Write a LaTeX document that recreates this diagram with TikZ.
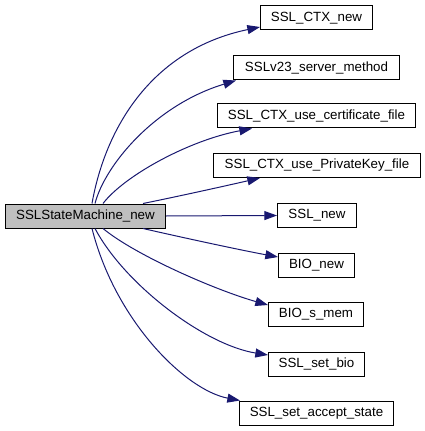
\documentclass[tikz,border=0pt]{standalone}
\usepackage{fontspec}
\setmainfont{Liberation Sans}
\usetikzlibrary{arrows.meta}
\definecolor{edgeblue}{HTML}{191970}
\definecolor{mainfill}{HTML}{BFBFBF}
\begin{document}
\begin{tikzpicture}[x=0.75pt,y=-0.75pt,
  fn/.style={draw=black,line width=0.75pt,anchor=west,minimum height=18pt,inner sep=0pt,font=\fontsize{10pt}{12pt}\selectfont},
  call/.style={draw=edgeblue,line width=0.75pt,-{Triangle[length=9.5pt,width=6.75pt]}}]
\useasboundingbox (0,0) rectangle (424,431);
\node[fn,fill=mainfill,minimum width=120pt] (main) at (5,216) {SSLStateMachine\_new};
\node[fn,minimum width=84pt] (ctx) at (260,18) {SSL\_CTX\_new};
\node[fn,minimum width=124.5pt] (v23) at (233,68) {SSLv23\_server\_method};
\node[fn,minimum width=148.5pt] (cert) at (217,116) {SSL\_CTX\_use\_certificate\_file};
\node[fn,minimum width=155.25pt] (pk) at (213,165.5) {SSL\_CTX\_use\_PrivateKey\_file};
\node[fn,minimum width=59.25pt] (sslnew) at (277,215.5) {SSL\_new};
\node[fn,minimum width=57pt] (bionew) at (278,265) {BIO\_new};
\node[fn,minimum width=71.25pt] (smem) at (268,314) {BIO\_s\_mem};
\node[fn,minimum width=72pt] (setbio) at (268,364) {SSL\_set\_bio};
\node[fn,minimum width=115.5pt] (accept) at (239,413) {SSL\_set\_accept\_state};

\draw[call] ([xshift=65.25pt]main.north west) .. controls (105,130) and (150,50) .. ([yshift=-6.75pt]ctx.west);
\draw[call] ([xshift=67.5pt]main.north west) .. controls (105,165) and (155,105) .. ([xshift=2.25pt]v23.south west);
\draw[call] ([xshift=73.5pt]main.north west) .. controls (125,175) and (190,140) .. ([xshift=26.25pt]cert.south west);
\draw[call] ([xshift=103.5pt]main.north west) .. controls (180,196) and (225,186) .. ([xshift=35.25pt]pk.south west);
\draw[call] (main.east) -- (sslnew.west);
\draw[call] ([xshift=103.5pt]main.south west) .. controls (180,237) and (240,250) .. ([yshift=6pt]bionew.west);
\draw[call] ([xshift=73.5pt]main.south west) .. controls (135,255) and (215,290) .. ([yshift=6.75pt]smem.west);
\draw[call] ([xshift=67.5pt]main.south west) .. controls (125,285) and (205,345) .. ([yshift=6.75pt]setbio.west);
\draw[call] ([xshift=65.25pt]main.south west) .. controls (115,320) and (185,390) .. ([xshift=0.75pt]accept.north west);
\end{tikzpicture}
\end{document}
